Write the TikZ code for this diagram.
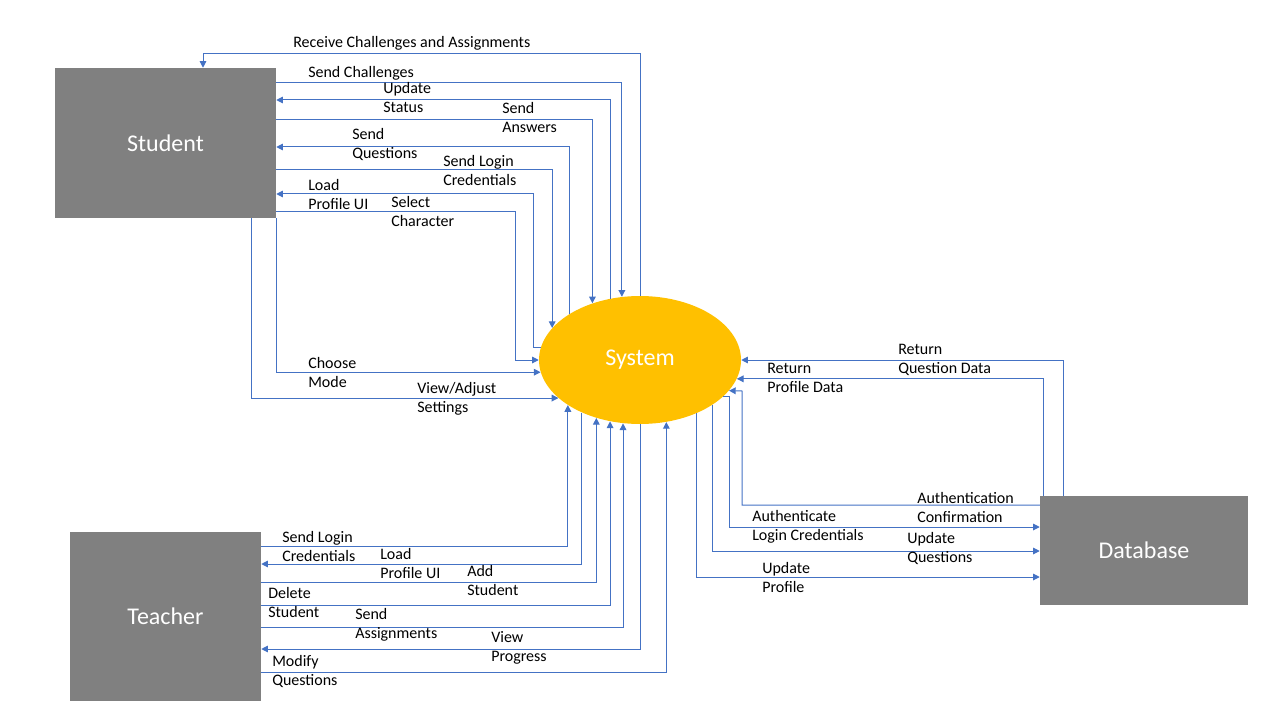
\documentclass[tikz,border=0pt]{standalone}
\usepackage{fontspec}
\usepackage{tikz}
\usepackage{xcolor}
\setmainfont{Carlito}
\usetikzlibrary{shapes.geometric, arrows.meta, positioning, calc}
\definecolor{dfdGray}{RGB}{128,128,128}
\definecolor{dfdGold}{RGB}{255,192,0}
\definecolor{dfdBlue}{RGB}{68,114,196}

\begin{document}
\begin{tikzpicture}[x=0.75pt, y=-0.75pt,
      entity/.style={fill=dfdGray, draw=none, text=white, font=\fontsize{18}{21}\selectfont},
      process/.style={ellipse, fill=dfdGold, draw=none, inner sep=0pt, text=white,
      minimum width=151.5pt, minimum height=96pt, font=\fontsize{18}{21}\selectfont},
      flow/.style={-{Triangle[length=5pt, width=5pt]}, draw=dfdBlue, line width=0.75pt},
      lbl/.style={anchor=west, align=left, inner sep=0pt, font=\fontsize{12}{14.25}\selectfont}
    ]
    \useasboundingbox (0,0) rectangle (1280,720);

    \node[entity, minimum width=165.75pt, minimum height=112.5pt] (stu) at (165.5,143) {Student};
    \node[entity, minimum width=143.25pt, minimum height=126.75pt] (tea) at (165.5,616.5) {Teacher};
    \node[entity, minimum width=156pt, minimum height=81.75pt] (db) at (1144,550.5) {Database};
    \node[process] (sys) at (640,360) {System};

    % student flows
    \draw[flow] (sys.north) |- (203,54) -- (stu.north -| 203,0);
    \draw[flow] (stu.east |- 0,83) -| (sys.106);
    \draw[flow] (sys.116) |- (stu.east |- 0,100);
    \draw[flow] (stu.east |- 0,120) -| (sys.130);
    \draw[flow] (sys.147) |- (stu.east |- 0,147);
    \draw[flow] (stu.east |- 0,170) -| (sys.160);
    \draw[flow] (sys.173) -| (533,194) -- (stu.east |- 0,194);
    \draw[flow] (stu.east |- 0,212) -| (515,360) -- (sys.west);
    \draw[flow] (stu.south east) |- (sys.187);
    \draw[flow] (stu.south -| 251,0) |- (sys.205);

    \node[lbl] (l-receive) at (293,43) {Receive Challenges and Assignments};
    \node[lbl] (l-challenges) at (308,73) {Send Challenges};
    \node[lbl] (l-status) at (383,98) {Update\\Status};
    \node[lbl] (l-answers) at (502,117.5) {Send\\Answers};
    \node[lbl] (l-questions) at (352,144.5) {Send\\Questions};
    \node[lbl] (l-slogin) at (443,171) {Send Login\\Credentials};
    \node[lbl] (l-sprofile) at (308,194.5) {Load\\Profile UI};
    \node[lbl] (l-character) at (391,211.5) {Select\\Character};
    \node[lbl] (l-mode) at (308,372.5) {Choose\\Mode};
    \node[lbl] (l-settings) at (417,398.5) {View/Adjust\\Settings};

    % teacher flows
    \draw[flow] (tea.east |- 0,546) -| (sys.212);
    \draw[flow] (sys.222) |- (tea.east |- 0,564);
    \draw[flow] (tea.east |- 0,582) -| (sys.233);
    \draw[flow] (tea.east |- 0,605) -| (sys.244);
    \draw[flow] (tea.east |- 0,627) -| (sys.255);
    \draw[flow] (sys.south) |- (tea.east |- 0,649);
    \draw[flow] (tea.east |- 0,672) -| (sys.-67);

    \node[lbl] (l-tlogin) at (282,546.5) {Send Login\\Credentials};
    \node[lbl] (l-tprofile) at (380,563.5) {Load\\Profile UI};
    \node[lbl] (l-add) at (467,580.5) {Add\\Student};
    \node[lbl] (l-delete) at (268,602.5) {Delete\\Student};
    \node[lbl] (l-assign) at (355,624.5) {Send\\Assignments};
    \node[lbl] (l-progress) at (491,647.5) {View\\Progress};
    \node[lbl] (l-modify) at (272,671) {Modify\\Questions};

    % database flows
    \draw[flow] (db.north -| 1063,0) |- (sys.east);
    \draw[flow] (db.north -| 1043,0) |- (sys.-11);
    \draw[flow] (db.west |- 0,505) -| (742,391) -- (sys.-19);
    \draw[flow] (sys.-24) -| (729,527) -- (db.west |- 0,527);
    \draw[flow] (sys.-32) |- (db.west |- 0,551);
    \draw[flow] (sys.-43) |- (db.west |- 0,577);

    \node[lbl] (l-qdata) at (898,360) {Return\\Question Data};
    \node[lbl] (l-pdata) at (767,377.5) {Return\\Profile Data};
    \node[lbl] (l-confirm) at (917,507.5) {Authentication\\Confirmation};
    \node[lbl] (l-auth) at (752,526.5) {Authenticate\\Login Credentials};
    \node[lbl] (l-uquestions) at (907,548.5) {Update\\Questions};
    \node[lbl] (l-uprofile) at (762,577.5) {Update\\Profile};
  \end{tikzpicture}
\end{document}
